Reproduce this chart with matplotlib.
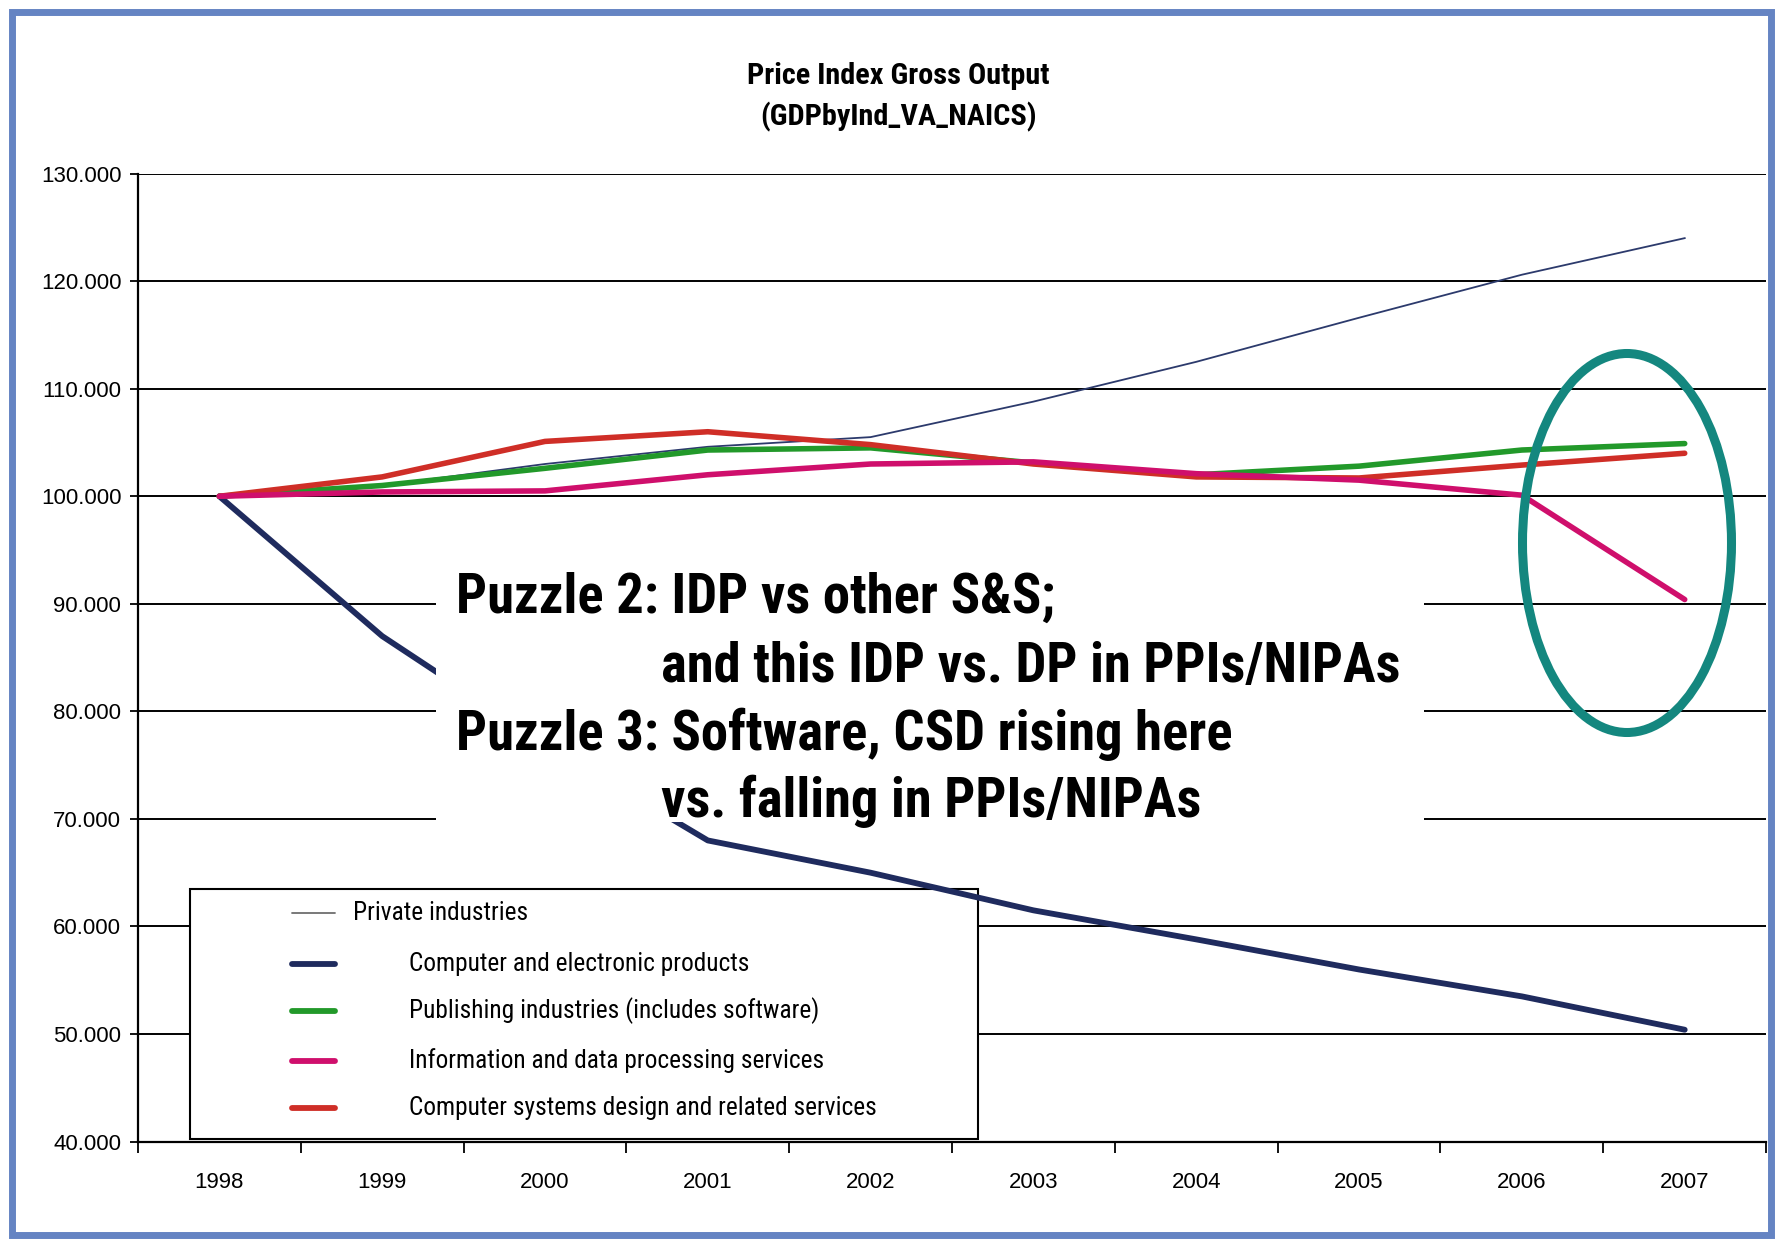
import os
import matplotlib
matplotlib.use('Agg')
import matplotlib.pyplot as plt
import numpy as np
from matplotlib.patches import Rectangle, Ellipse
from matplotlib.lines import Line2D
from matplotlib import font_manager as fm
from matplotlib.font_manager import FontProperties

# ---------------- data ----------------
years = ['1998', '1999', '2000', '2001', '2002', '2003', '2004', '2005', '2006', '2007']
private_industries = [100.0, 101.0, 103.0, 104.6, 105.5, 108.8, 112.5, 116.6, 120.6, 124.0]
computer_electronic = [100.0, 87.0, 77.0, 68.0, 65.0, 61.5, 58.8, 56.0, 53.5, 50.4]
publishing = [100.0, 101.0, 102.6, 104.3, 104.5, 103.1, 102.0, 102.8, 104.3, 104.9]
info_data_proc = [100.0, 100.4, 100.5, 102.0, 103.0, 103.2, 102.1, 101.5, 100.1, 90.4]
comp_sys_design = [100.0, 101.8, 105.1, 106.0, 104.8, 103.0, 101.8, 101.7, 102.9, 104.0]

series_labels = ['Private industries',
                 'Computer and electronic products',
                 'Publishing industries (includes software)',
                 'Information and data processing services',
                 'Computer systems design and related services']
y_ticks = [40, 50, 60, 70, 80, 90, 100, 110, 120, 130]

title_lines = ['Price Index Gross Output', '(GDPbyInd_VA_NAICS)']
puzzle_lines = ['Puzzle 2: IDP vs other S&S;',
                'and this IDP vs. DP in PPIs/NIPAs',
                'Puzzle 3: Software, CSD rising here',
                'vs. falling in PPIs/NIPAs']


# ---------------- fonts ----------------
def find_narrow(weight):
    for fam in ['Liberation Sans Narrow', 'Arial Narrow', 'Roboto Condensed',
                'Noto Sans', 'DejaVu Sans', 'Open Sans', 'Roboto']:
        fp = FontProperties(family=fam, weight=weight, stretch='condensed')
        try:
            path = fm.findfont(fp, fallback_to_default=False)
        except Exception:
            continue
        base = os.path.basename(path).lower()
        if 'narrow' in base or 'condensed' in base:
            return fp
    return FontProperties(family='Liberation Sans', weight=weight)


FP_BOLD = find_narrow('bold')
FP_REG = find_narrow('normal')
REG = ['Liberation Sans', 'DejaVu Sans']


def fprop(base, size):
    p = base.copy()
    p.set_size(size)
    return p


# ---------------- style ----------------
C_NAVY = '#1f2b5e'
C_PRIV = '#2c3a6c'
C_GREEN = '#22992a'
C_PINK = '#cf0f6c'
C_RED = '#cf2e27'
C_TEAL = '#14877f'
C_FRAME = '#6584c3'

W, H = 1775, 1249
fig = plt.figure(figsize=(W / 100, H / 100), dpi=100)
fig.patch.set_facecolor('white')

ax_left, ax_right, ax_top, ax_bot = 0.0777, 0.995, 0.861, 0.086
ax = fig.add_axes([ax_left, ax_bot, ax_right - ax_left, ax_top - ax_bot])
ax.set_facecolor('white')
ax.set_axisbelow(True)

x = np.arange(len(years))
ax.set_xlim(-0.5, len(years) - 0.5)
ax.set_ylim(y_ticks[0], y_ticks[-1])

# grid & spines
ax.set_yticks(y_ticks)
ax.set_yticklabels([f'{v:.3f}' for v in y_ticks], family=REG, fontsize=16)
ax.yaxis.grid(True, color='black', lw=1.4)
ax.tick_params(axis='y', direction='out', length=6, width=1.3, pad=6, colors='black')
for s in ['top', 'right']:
    ax.spines[s].set_visible(False)
for s in ['left', 'bottom']:
    ax.spines[s].set_color('black')
    ax.spines[s].set_linewidth(1.6)

ax.set_xticks(np.arange(-0.5, len(years), 1.0))
ax.set_xticklabels([''] * (len(years) + 1))
ax.tick_params(axis='x', which='major', direction='out', length=8, width=1.3)
ax.set_xticks(x, minor=True)
ax.set_xticklabels(years, minor=True, family=REG, fontsize=16)
ax.tick_params(axis='x', which='minor', length=0, pad=22)

# series
ax.plot(x, private_industries, color=C_PRIV, lw=1.3, zorder=3)
ax.plot(x, computer_electronic, color=C_NAVY, lw=4.2, zorder=3, solid_capstyle='round')
ax.plot(x, publishing, color=C_GREEN, lw=4.0, zorder=3, solid_capstyle='round')
ax.plot(x, comp_sys_design, color=C_RED, lw=4.0, zorder=3, solid_capstyle='round')
ax.plot(x, info_data_proc, color=C_PINK, lw=4.0, zorder=3, solid_capstyle='round')

# white annotation box covering part of the plot
ax.add_patch(Rectangle((1.33, 69.7), 7.40 - 1.33, 95.5 - 69.7, facecolor='white',
                       edgecolor='none', zorder=5))

fit_groups = []  # (list of (text, target_width_px))

# title
t1 = fig.text(0.506, 0.939, title_lines[0], ha='center', va='center',
              fontproperties=fprop(FP_BOLD, 21.5))
t2 = fig.text(0.506, 0.906, title_lines[1], ha='center', va='center',
              fontproperties=fprop(FP_BOLD, 21.5))
fit_groups.append([(t1, 308), (t2, 272)])

# puzzle text
px = [456, 661, 456, 661]
py = [613, 682, 750, 817]
pw = [606, 738, 781, 527]
grp = []
for t, xx, yy, ww in zip(puzzle_lines, px, py, pw):
    tt = ax.text(xx / W, 1 - yy / H, t, transform=fig.transFigure, ha='left', va='baseline',
                 fontproperties=fprop(FP_BOLD, 40), color='black', zorder=6)
    grp.append((tt, ww))
fit_groups.append(grp)

# legend (manual)
lx0, lx1, ly0, ly1 = 190, 978, 889, 1139
ax.add_patch(Rectangle((lx0 / W, 1 - ly1 / H), (lx1 - lx0) / W, (ly1 - ly0) / H,
                       transform=fig.transFigure, facecolor='white', edgecolor='black',
                       lw=1.5, zorder=2, clip_on=False))
row_y = [913, 964, 1011, 1061, 1108]
handle_styles = [('#6e6e6e', 1.3), (C_NAVY, 4.2), (C_GREEN, 4.2), (C_PINK, 4.2), (C_RED, 4.2)]
text_x = [353, 409, 409, 409, 409]
leg_w = [173, 343, 409, 414, 477]
grp = []
for lab, ry, (col, lw), tx, ww in zip(series_labels, row_y, handle_styles, text_x, leg_w):
    yy = 1 - ry / H
    ax.add_line(Line2D([292 / W, 335 / W], [yy, yy], transform=fig.transFigure, color=col,
                       lw=lw, solid_capstyle='round', zorder=6, clip_on=False))
    tt = ax.text(tx / W, yy, lab, transform=fig.transFigure, ha='left', va='center',
                 fontproperties=fprop(FP_REG, 19.5), color='black', zorder=6)
    grp.append((tt, ww))
fit_groups.append(grp)

# fit text widths to the reference (one common size per group)
fig.canvas.draw()
renderer = fig.canvas.get_renderer()
for grp in fit_groups:
    ratios = []
    for tt, ww in grp:
        w = tt.get_window_extent(renderer).width
        ratios.append(ww / w)
    r = float(np.mean(ratios))
    for tt, ww in grp:
        tt.set_fontsize(tt.get_fontsize() * r)

# highlight ellipse
ax.add_patch(Ellipse((1627 / W, 1 - 543 / H), 209 / W, 379 / H, transform=fig.transFigure,
                     fill=False, edgecolor=C_TEAL, lw=6.5, zorder=10, clip_on=False))

# outer frame
fig.patches.append(Rectangle((0.007, 0.011), 0.991, 0.979, transform=fig.transFigure,
                             fill=False, edgecolor=C_FRAME, lw=5, zorder=20))

fig.savefig('out.png', dpi=100, facecolor='white')
